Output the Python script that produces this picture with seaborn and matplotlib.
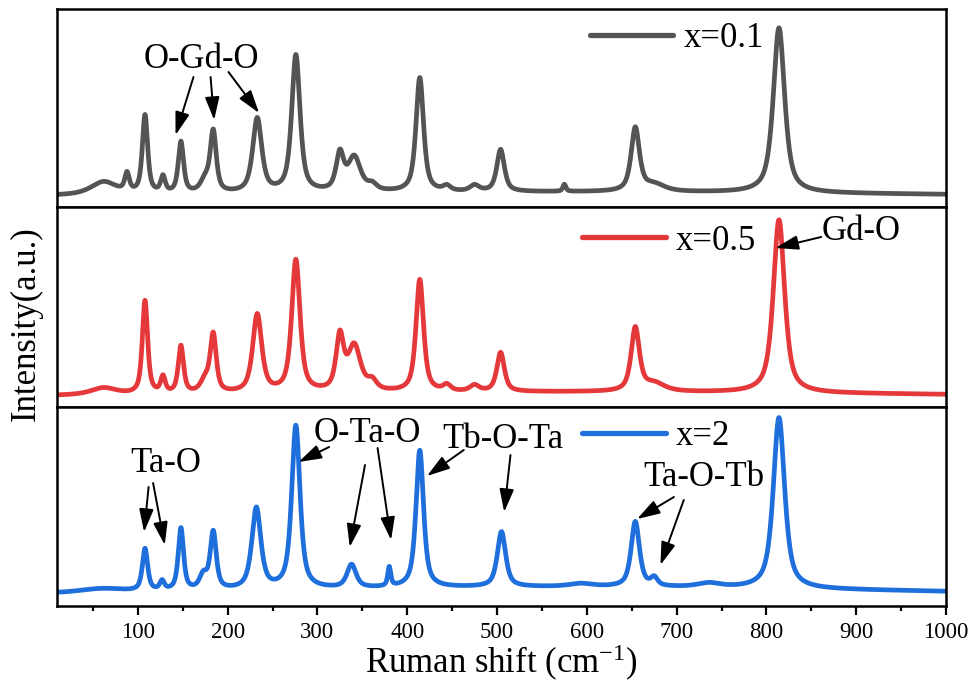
import numpy as np
import pandas as pd
import matplotlib
matplotlib.use("Agg")
import matplotlib.pyplot as plt
import seaborn as sns

# ---------------- data ----------------
wavenumber_min, wavenumber_max = 10, 1000
x_ticks = [100, 200, 300, 400, 500, 600, 700, 800, 900, 1000]

# x = 0.1 (grey)  peak centres (cm-1), amplitudes (a.u.), widths (cm-1)
top_centers = [62, 88, 108, 128, 148, 175, 184, 233, 276, 325, 341, 361, 414, 444, 475, 504, 575, 654, 675, 814]
top_amps    = [13, 18, 78, 16, 51, 12, 60, 74, 137, 36, 34, 6, 114, 5, 6, 42, 7, 63, 7, 165]
top_widths  = [34, 6, 7, 6, 7, 12, 8, 12, 11, 10, 17, 12, 10, 10, 12, 10, 4, 11, 28, 15]
top_base    = [10, 5]          # constant level, broad background level

# x = 0.5 (red)
mid_centers = [62, 108, 128, 148, 175, 184, 233, 276, 325, 341, 361, 414, 444, 475, 504, 654, 675, 814]
mid_amps    = [7, 93, 16, 47, 12, 57, 78, 132, 53, 45, 9, 112, 6, 6, 39, 63, 8, 173]
mid_widths  = [34, 7, 6, 7, 12, 8, 12, 11, 10, 17, 12, 10, 10, 12, 10, 11, 28, 15]
mid_base    = [10, 5]

# x = 2 (blue)
bot_centers = [60, 108, 127, 148, 173, 184, 232, 276, 338, 380, 414, 505, 593, 654, 675, 736, 814]
bot_amps    = [4, 42, 9, 62, 14, 57, 81, 163, 23, 19, 137, 55, 3, 65, 8, 4, 171]
bot_widths  = [60, 7, 6, 7, 10, 8, 12, 11, 12, 4, 10, 11, 30, 11, 9, 30, 15]
bot_base    = [10, 9]

series_labels = ["x=0.1", "x=0.5", "x=2"]
series_colors = ["#545454", "#E5383B", "#1E6FDC"]


def spectrum(xs, centers, amps, widths, base, eta=0.7):
    xs = np.asarray(xs, float)
    y = np.full_like(xs, base[0], dtype=float)
    y += base[1] * np.exp(-4 * np.log(2) * ((xs - 580) / 850.0) ** 2)
    for c, a, w in zip(centers, amps, widths):
        lor = 1.0 / (1.0 + ((xs - c) / (w / 2.0)) ** 2)
        gau = np.exp(-4 * np.log(2) * ((xs - c) / w) ** 2)
        y += a * (eta * lor + (1 - eta) * gau)
    return y


xs = np.linspace(wavenumber_min, wavenumber_max, 4000)
frames = []
for lab, cen, amp, wid, base in zip(series_labels,
                                    [top_centers, mid_centers, bot_centers],
                                    [top_amps, mid_amps, bot_amps],
                                    [top_widths, mid_widths, bot_widths],
                                    [top_base, mid_base, bot_base]):
    frames.append(pd.DataFrame({"shift": xs, "intensity": spectrum(xs, cen, amp, wid, base), "sample": lab}))
df = pd.concat(frames, ignore_index=True)

# ---------------- style ----------------
sns.set_style("white")
plt.rcParams["font.family"] = ["Liberation Serif", "DejaVu Serif"]
plt.rcParams["mathtext.fontset"] = "custom"
plt.rcParams["mathtext.rm"] = "Liberation Serif"
plt.rcParams["mathtext.it"] = "Liberation Serif:italic"
plt.rcParams["text.color"] = "black"
plt.rcParams["axes.labelcolor"] = "black"
plt.rcParams["xtick.color"] = "black"
plt.rcParams["ytick.color"] = "black"

fig = plt.figure(figsize=(9.71, 6.82), dpi=100)
L, W = 57 / 971, 889 / 971
panel_px = [(8.5, 207), (207, 407), (407, 606)]
axes = []
for (t, b) in panel_px:
    ax = fig.add_axes([L, 1 - b / 682, W, (b - t) / 682])
    axes.append(ax)

FS = 25
for i, (ax, lab, col) in enumerate(zip(axes, series_labels, series_colors)):
    sub = df[df["sample"] == lab]
    sns.lineplot(data=sub, x="shift", y="intensity", ax=ax, color=col, lw=3.4,
                 label=lab, sort=False, estimator=None)
    t, b = panel_px[i]
    ax.set_ylim(0, b - t)
    ax.set_xlim(wavenumber_min, wavenumber_max)
    ax.set_yticks([])
    ax.set_ylabel("")
    ax.set_xlabel("")
    for s in ax.spines.values():
        s.set_linewidth(1.8)
        s.set_color("black")
    leg_y = [0.848, 0.83, 0.85][i]
    leg_x = [0.599, 0.591, 0.591][i]
    ax.legend(loc="center left", bbox_to_anchor=(leg_x, leg_y), frameon=False,
              fontsize=FS, handlelength=2.4, handletextpad=0.3, borderpad=0,
              borderaxespad=0)
    for h in ax.get_legend().get_lines():
        h.set_linewidth(3.8)
    if i < 2:
        ax.set_xticks([])
    else:
        ax.set_xticks(x_ticks)
        ax.set_xticklabels([str(v) for v in x_ticks])
        ax.set_xticks(np.arange(50, 1001, 100), minor=True)
        ax.tick_params(axis="x", which="major", direction="out", length=6.5, width=1.6,
                       labelsize=16.5, pad=5, bottom=True, colors="black")
        ax.tick_params(axis="x", which="minor", direction="out", length=3.5, width=1.6,
                       bottom=True, colors="black")
        ax.set_xlabel("Ruman shift (cm$^{\\mathregular{-1}}$)", fontsize=FS, labelpad=0,
                      color="black")

axes[1].set_ylabel("Intensity(a.u.)", fontsize=FS, color="black")
axes[1].yaxis.set_label_coords(-0.016, 0.415)

ARW = dict(arrowstyle="-|>,head_length=0.7,head_width=0.22", color="black", lw=1.4,
           shrinkA=0, shrinkB=0, mutation_scale=20)


def arrow(ax, tail, head):
    ax.annotate("", xy=head, xytext=tail, xycoords="data", textcoords="data", arrowprops=ARW)


# top panel
a0 = axes[0]
a0.text(171, 147, "O-Gd-O", fontsize=FS, ha="center", va="center", color="black")
arrow(a0, (162, 130), (142, 72))
arrow(a0, (181, 130), (185, 87))
arrow(a0, (201, 135), (235, 94))

# middle panel
a1 = axes[1]
a1.text(861, 176, "Gd-O", fontsize=FS, ha="left", va="center", color="black")
arrow(a1, (861, 170), (810, 159))

# bottom panel
a2 = axes[2]
a2.text(131, 143, "Ta-O", fontsize=FS, ha="center", va="center", color="black")
arrow(a2, (112, 119), (107, 74))
arrow(a2, (117, 123), (130, 61))
a2.text(356, 173, "O-Ta-O", fontsize=FS, ha="center", va="center", color="black")
arrow(a2, (313, 159), (279, 144))
arrow(a2, (353, 141), (336, 59))
arrow(a2, (367, 158), (382, 66))
a2.text(507, 166, "Tb-O-Ta", fontsize=FS, ha="center", va="center", color="black")
arrow(a2, (463, 156), (422, 130))
arrow(a2, (515, 151), (508, 94))
a2.text(730, 128, "Ta-O-Tb", fontsize=FS, ha="center", va="center", color="black")
arrow(a2, (697, 109), (656, 87))
arrow(a2, (708, 106), (682, 41))

fig.savefig("out.png", dpi=100)
